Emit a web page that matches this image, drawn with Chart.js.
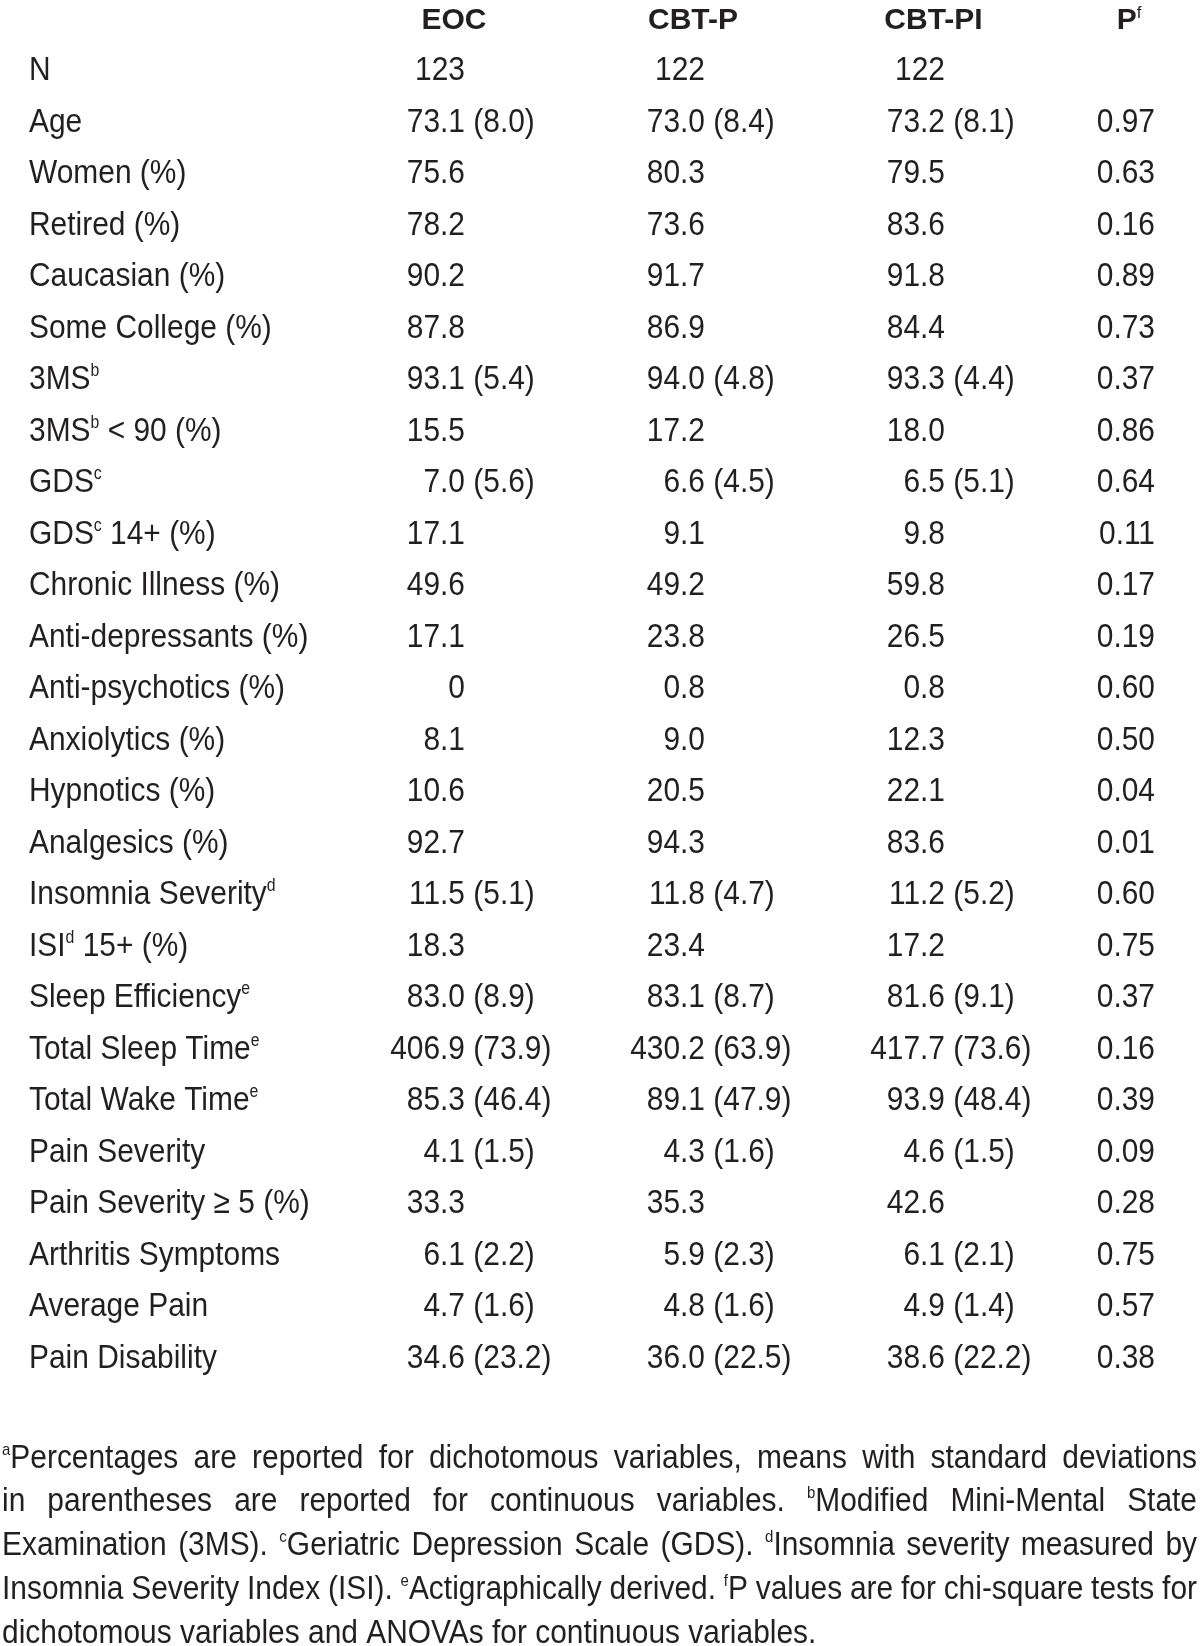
<!DOCTYPE html>
<html>
<head>
<meta charset="utf-8">
<script src="https://cdn.jsdelivr.net/npm/chart.js@4.4.0/dist/chart.umd.min.js"></script>
<style>
  html, body { margin: 0; padding: 0; background: #fff; }
  #tableChart { display: block; }
</style>
</head>
<body>
<canvas id="tableChart" width="1200" height="1646"></canvas>
<script>
// "^x" marks a single superscript character
const columns = ["EOC", "CBT-P", "CBT-PI", "P^f"];

const rowLabels = [
  "N", "Age", "Women (%)", "Retired (%)", "Caucasian (%)", "Some College (%)",
  "3MS^b", "3MS^b < 90 (%)", "GDS^c", "GDS^c 14+ (%)", "Chronic Illness (%)",
  "Anti-depressants (%)", "Anti-psychotics (%)", "Anxiolytics (%)", "Hypnotics (%)",
  "Analgesics (%)", "Insomnia Severity^d", "ISI^d 15+ (%)", "Sleep Efficiency^e",
  "Total Sleep Time^e", "Total Wake Time^e", "Pain Severity", "Pain Severity \u2265 5 (%)",
  "Arthritis Symptoms", "Average Pain", "Pain Disability"
];

const eocValues = [
  "123", "73.1 (8.0)", "75.6", "78.2", "90.2", "87.8", "93.1 (5.4)", "15.5",
  "7.0 (5.6)", "17.1", "49.6", "17.1", "0", "8.1", "10.6", "92.7", "11.5 (5.1)",
  "18.3", "83.0 (8.9)", "406.9 (73.9)", "85.3 (46.4)", "4.1 (1.5)", "33.3",
  "6.1 (2.2)", "4.7 (1.6)", "34.6 (23.2)"
];

const cbtpValues = [
  "122", "73.0 (8.4)", "80.3", "73.6", "91.7", "86.9", "94.0 (4.8)", "17.2",
  "6.6 (4.5)", "9.1", "49.2", "23.8", "0.8", "9.0", "20.5", "94.3", "11.8 (4.7)",
  "23.4", "83.1 (8.7)", "430.2 (63.9)", "89.1 (47.9)", "4.3 (1.6)", "35.3",
  "5.9 (2.3)", "4.8 (1.6)", "36.0 (22.5)"
];

const cbtpiValues = [
  "122", "73.2 (8.1)", "79.5", "83.6", "91.8", "84.4", "93.3 (4.4)", "18.0",
  "6.5 (5.1)", "9.8", "59.8", "26.5", "0.8", "12.3", "22.1", "83.6", "11.2 (5.2)",
  "17.2", "81.6 (9.1)", "417.7 (73.6)", "93.9 (48.4)", "4.6 (1.5)", "42.6",
  "6.1 (2.1)", "4.9 (1.4)", "38.6 (22.2)"
];

const pValues = [
  "", "0.97", "0.63", "0.16", "0.89", "0.73", "0.37", "0.86", "0.64", "0.11",
  "0.17", "0.19", "0.60", "0.50", "0.04", "0.01", "0.60", "0.75", "0.37", "0.16",
  "0.39", "0.09", "0.28", "0.75", "0.57", "0.38"
];

const footnoteLines = [
  "^aPercentages are reported for dichotomous variables, means with standard deviations",
  "in parentheses are reported for continuous variables. ^bModified Mini-Mental State",
  "Examination (3MS). ^cGeriatric Depression Scale (GDS). ^dInsomnia severity measured by",
  "Insomnia Severity Index (ISI). ^eActigraphically derived. ^fP values are for chi-square tests for",
  "dichotomous variables and ANOVAs for continuous variables."
];

// layout
const W = 1200, H = 1646;
const ROW_TOP = 80, ROW_STEP = 51.5;
const LABEL_X = 29;
const colAnchors = [465, 705, 945, 1155];   // right edge of the first number in a cell
const headCenters = [454, 693, 933.5, 1129];
const NOTE_LEFT = 2, NOTE_RIGHT = 1197, NOTE_TOP = 1467.5, NOTE_STEP = 43.8;
const INK = "#231f20";

const bodyStyle = { size: 34, sx: 0.88, weight: "normal", supSize: 18, supRise: 13 };
const headStyle = { size: 30, sx: 1.0, weight: "bold", supSize: 17, supRise: 11 };
const noteStyle = { size: 34, sx: 0.88, weight: "normal", supSize: 17, supRise: 13 };

function parseRich(s) {
  const segs = [];
  let buf = "";
  for (let i = 0; i < s.length; i++) {
    if (s[i] === "^" && i + 1 < s.length) {
      if (buf) segs.push({ t: buf, sup: false });
      segs.push({ t: s[i + 1], sup: true });
      buf = "";
      i++;
    } else {
      buf += s[i];
    }
  }
  if (buf) segs.push({ t: buf, sup: false });
  return segs;
}

function setFont(ctx, st, sup) {
  const w = sup ? "normal" : st.weight;
  const sz = sup ? st.supSize : st.size;
  ctx.font = w + " " + sz + "px 'Liberation Sans', Arial, sans-serif";
}

function measureRich(ctx, segs, st) {
  let w = 0;
  segs.forEach((s) => {
    setFont(ctx, st, s.sup);
    w += ctx.measureText(s.t).width * st.sx;
  });
  return w;
}

function drawRich(ctx, segs, x, y, st) {
  segs.forEach((s) => {
    setFont(ctx, st, s.sup);
    ctx.save();
    ctx.translate(x, s.sup ? y - st.supRise : y);
    ctx.scale(st.sx, 1);
    ctx.fillText(s.t, 0, 0);
    ctx.restore();
    x += ctx.measureText(s.t).width * st.sx;
  });
  return x;
}

const tablePlugin = {
  id: "tableText",
  beforeDraw(chart) {
    const ctx = chart.ctx;
    ctx.save();
    ctx.fillStyle = "#ffffff";
    ctx.fillRect(0, 0, chart.width, chart.height);
    ctx.restore();
  },
  afterDatasetsDraw(chart) {
    const ctx = chart.ctx;
    const xs = chart.scales.x, ys = chart.scales.y;
    ctx.save();
    ctx.fillStyle = INK;
    ctx.textAlign = "left";
    ctx.textBaseline = "alphabetic";

    // column headers sit one row above the first row
    columns.forEach((c, j) => {
      const segs = parseRich(c);
      const w = measureRich(ctx, segs, headStyle);
      drawRich(ctx, segs, xs.getPixelForValue(headCenters[j]) - w / 2, ys.getPixelForValue(-1), headStyle);
    });

    // cells, placed at each point the scatter datasets put on the scales
    chart.data.datasets.forEach((ds, k) => {
      const meta = chart.getDatasetMeta(k);
      meta.data.forEach((pt, i) => {
        const txt = ds.texts[i];
        if (!txt) return;
        if (ds.kind === "label") {
          drawRich(ctx, parseRich(txt), pt.x, pt.y, bodyStyle);
        } else {
          const cut = txt.indexOf(" ");
          const main = cut < 0 ? txt : txt.slice(0, cut);
          const rest = cut < 0 ? "" : txt.slice(cut);
          const mw = measureRich(ctx, [{ t: main, sup: false }], bodyStyle);
          const xEnd = drawRich(ctx, [{ t: main, sup: false }], pt.x - mw, pt.y, bodyStyle);
          if (rest) drawRich(ctx, [{ t: rest, sup: false }], xEnd, pt.y, bodyStyle);
        }
      });
    });

    // justified footnote
    footnoteLines.forEach((line, li) => {
      const y = NOTE_TOP + li * NOTE_STEP;
      const words = line.split(" ").map(parseRich);
      const widths = words.map((w) => measureRich(ctx, w, noteStyle));
      const total = widths.reduce((a, b) => a + b, 0);
      const last = li === footnoteLines.length - 1;
      setFont(ctx, noteStyle, false);
      const spaceW = ctx.measureText(" ").width * noteStyle.sx;
      const gap = last ? spaceW : (NOTE_RIGHT - NOTE_LEFT - total) / (words.length - 1);
      let x = NOTE_LEFT;
      words.forEach((w, wi) => {
        drawRich(ctx, w, x, y, noteStyle);
        x += widths[wi] + gap;
      });
    });

    ctx.restore();
  }
};

const pointsAt = (xv, list) => list.map((_, i) => ({ x: xv, y: i }));

const ctx = document.getElementById("tableChart");
new Chart(ctx, {
  type: "scatter",
  data: {
    datasets: [
      { label: "Variable", kind: "label", texts: rowLabels, data: pointsAt(LABEL_X, rowLabels) },
      { label: "EOC", kind: "value", texts: eocValues, data: pointsAt(colAnchors[0], eocValues) },
      { label: "CBT-P", kind: "value", texts: cbtpValues, data: pointsAt(colAnchors[1], cbtpValues) },
      { label: "CBT-PI", kind: "value", texts: cbtpiValues, data: pointsAt(colAnchors[2], cbtpiValues) },
      { label: "P", kind: "value", texts: pValues, data: pointsAt(colAnchors[3], pValues) },
    ],
  },
  options: {
    responsive: false,
    animation: false,
    events: [],
    layout: { padding: 0 },
    elements: { point: { radius: 0, hoverRadius: 0 } },
    plugins: {
      legend: { display: false },
      tooltip: { enabled: false },
    },
    scales: {
      x: { type: "linear", min: 0, max: W, display: false },
      y: {
        type: "linear",
        reverse: true,
        min: -ROW_TOP / ROW_STEP,
        max: (H - ROW_TOP) / ROW_STEP,
        display: false,
      },
    },
  },
  plugins: [tablePlugin],
});
</script>
</body>
</html>
